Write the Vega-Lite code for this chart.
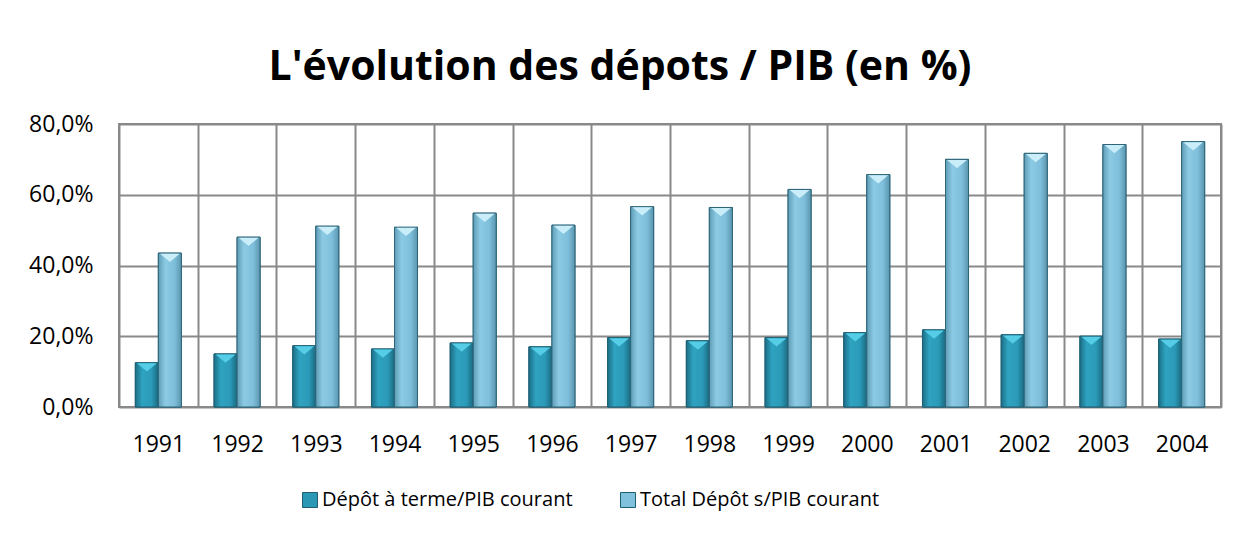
{
  "$schema": "https://vega.github.io/schema/vega-lite/v6.json",
  "width": 1102,
  "height": 283,
  "autosize": {"type": "none"},
  "padding": {"left": 119, "top": 124, "right": 18, "bottom": 126},
  "background": "white",
  "title": {
    "text": "L'évolution des dépots / PIB (en %)",
    "font": "Open Sans",
    "fontWeight": "bold",
    "fontSize": 41,
    "color": "black",
    "anchor": "middle",
    "frame": "group",
    "dx": -50,
    "baseline": "alphabetic",
    "offset": -8
  },
  "data": {
    "values": [
      {"annee": "1991", "serie": "Dépôt à terme/PIB courant", "valeur": 0.125},
      {"annee": "1991", "serie": "Total Dépôt s/PIB courant", "valeur": 0.435},
      {"annee": "1992", "serie": "Dépôt à terme/PIB courant", "valeur": 0.150},
      {"annee": "1992", "serie": "Total Dépôt s/PIB courant", "valeur": 0.480},
      {"annee": "1993", "serie": "Dépôt à terme/PIB courant", "valeur": 0.173},
      {"annee": "1993", "serie": "Total Dépôt s/PIB courant", "valeur": 0.511},
      {"annee": "1994", "serie": "Dépôt à terme/PIB courant", "valeur": 0.164},
      {"annee": "1994", "serie": "Total Dépôt s/PIB courant", "valeur": 0.508},
      {"annee": "1995", "serie": "Dépôt à terme/PIB courant", "valeur": 0.181},
      {"annee": "1995", "serie": "Total Dépôt s/PIB courant", "valeur": 0.548},
      {"annee": "1996", "serie": "Dépôt à terme/PIB courant", "valeur": 0.170},
      {"annee": "1996", "serie": "Total Dépôt s/PIB courant", "valeur": 0.514},
      {"annee": "1997", "serie": "Dépôt à terme/PIB courant", "valeur": 0.196},
      {"annee": "1997", "serie": "Total Dépôt s/PIB courant", "valeur": 0.566},
      {"annee": "1998", "serie": "Dépôt à terme/PIB courant", "valeur": 0.187},
      {"annee": "1998", "serie": "Total Dépôt s/PIB courant", "valeur": 0.564},
      {"annee": "1999", "serie": "Dépôt à terme/PIB courant", "valeur": 0.196},
      {"annee": "1999", "serie": "Total Dépôt s/PIB courant", "valeur": 0.615},
      {"annee": "2000", "serie": "Dépôt à terme/PIB courant", "valeur": 0.210},
      {"annee": "2000", "serie": "Total Dépôt s/PIB courant", "valeur": 0.657},
      {"annee": "2001", "serie": "Dépôt à terme/PIB courant", "valeur": 0.218},
      {"annee": "2001", "serie": "Total Dépôt s/PIB courant", "valeur": 0.700},
      {"annee": "2002", "serie": "Dépôt à terme/PIB courant", "valeur": 0.204},
      {"annee": "2002", "serie": "Total Dépôt s/PIB courant", "valeur": 0.717},
      {"annee": "2003", "serie": "Dépôt à terme/PIB courant", "valeur": 0.200},
      {"annee": "2003", "serie": "Total Dépôt s/PIB courant", "valeur": 0.742},
      {"annee": "2004", "serie": "Dépôt à terme/PIB courant", "valeur": 0.192},
      {"annee": "2004", "serie": "Total Dépôt s/PIB courant", "valeur": 0.750}
    ]
  },
  "encoding": {
    "x": {
      "field": "annee",
      "type": "nominal",
      "scale": {"paddingInner": 0, "paddingOuter": 0},
      "axis": {
        "title": null,
        "labelAngle": 0,
        "tickBand": "extent",
        "grid": true,
        "gridColor": "#898989",
        "gridWidth": 2,
        "ticks": false,
        "domain": false,
        "labelFont": "Open Sans",
        "labelFontSize": 23,
        "labelColor": "black",
        "labelPadding": 26
      }
    },
    "xOffset": {
      "field": "serie",
      "type": "nominal",
      "sort": ["Dépôt à terme/PIB courant", "Total Dépôt s/PIB courant"],
      "scale": {"paddingOuter": 0.71, "paddingInner": 0}
    },
    "y": {
      "field": "valeur",
      "type": "quantitative",
      "scale": {"domain": [0, 0.8]},
      "axis": {
        "title": null,
        "values": [0, 0.2, 0.4, 0.6, 0.8],
        "labelExpr": "replace(format(datum.value, '.1%'), '.', ',')",
        "grid": true,
        "gridColor": "#898989",
        "gridWidth": 2,
        "ticks": false,
        "domain": false,
        "labelFont": "Open Sans",
        "labelFontSize": 23,
        "labelColor": "black",
        "labelPadding": 26
      }
    }
  },
  "layer": [
    {
      "mark": {"type": "bar", "stroke": "#1f5f73", "strokeWidth": 1},
      "encoding": {
        "color": {
          "field": "serie",
          "type": "nominal",
          "sort": ["Dépôt à terme/PIB courant", "Total Dépôt s/PIB courant"],
          "scale": {"range": ["#2a97b5", "#80c2de"]},
          "legend": {
            "title": null,
            "orient": "none",
            "legendX": 181,
            "legendY": 366,
            "direction": "horizontal",
            "symbolType": "square",
            "symbolSize": 225,
            "symbolStrokeColor": "#1f5f73",
            "symbolStrokeWidth": 1,
            "labelFont": "Open Sans",
            "labelFontSize": 20,
            "labelColor": "black",
            "labelOffset": 2,
            "labelLimit": 500,
            "columnPadding": 45
          }
        }
      }
    },
    {
      "transform": [{"filter": "datum.serie === 'Dépôt à terme/PIB courant'"}],
      "mark": {
        "type": "bar",
        "stroke": "#1f5f73",
        "strokeWidth": 1,
        "color": {"gradient": "linear", "x1": 0, "y1": 0, "x2": 1, "y2": 0, "stops": [
          {"offset": 0, "color": "#1b6f86"},
          {"offset": 0.3, "color": "#2fa3c1"},
          {"offset": 0.7, "color": "#2b9ab8"},
          {"offset": 1, "color": "#1a6a80"}
        ]}
      }
    },
    {
      "transform": [{"filter": "datum.serie === 'Total Dépôt s/PIB courant'"}],
      "mark": {
        "type": "bar",
        "stroke": "#2f6578",
        "strokeWidth": 1,
        "color": {"gradient": "linear", "x1": 0, "y1": 0, "x2": 1, "y2": 0, "stops": [
          {"offset": 0, "color": "#5f9cb6"},
          {"offset": 0.3, "color": "#8ccae4"},
          {"offset": 0.7, "color": "#7fbfdb"},
          {"offset": 1, "color": "#5a95ae"}
        ]}
      }
    },
    {
      "transform": [{"filter": "datum.serie === 'Dépôt à terme/PIB courant'"}],
      "mark": {
        "type": "point",
        "shape": "M-0.9,0.05L0.9,0.05L0,0.8Z",
        "size": 484,
        "filled": true,
        "opacity": 1,
        "strokeWidth": 0,
        "color": "#55cde6"
      }
    },
    {
      "transform": [{"filter": "datum.serie === 'Total Dépôt s/PIB courant'"}],
      "mark": {
        "type": "point",
        "shape": "M-0.9,0.05L0.9,0.05L0,0.8Z",
        "size": 484,
        "filled": true,
        "opacity": 1,
        "strokeWidth": 0,
        "color": "#c9eef9"
      }
    }
  ],
  "config": {"view": {"stroke": "#898989", "strokeWidth": 2}}
}
